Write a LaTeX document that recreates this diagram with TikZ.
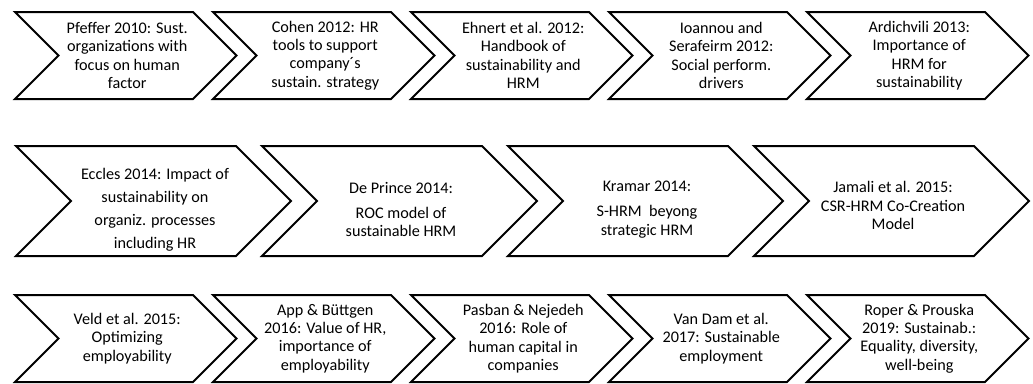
\documentclass[tikz,border=0pt]{standalone}
\usepackage{fontspec}
\setmainfont{Carlito}
\tikzset{
  chevline/.style={draw=black, fill=white, line width=2pt, line join=miter},
  txt/.style={align=center, font=\fontsize{16.2}{18.4}\selectfont, text=black, inner sep=0pt}
}
% #1 x left, #2 y top, #3 body width, #4 height, #5 name, #6 text dy, #7 text
\newcommand\chevshape[7]{%
  \draw[chevline] (#1,#2) -- ++(#3,0) -- ++({#4/2},{#4/2}) -- ++({-#4/2},{#4/2})
    -- ++(-#3,0) -- ++({#4/2},{-#4/2}) -- cycle;
  \node[txt] (#5) at ({#1+#4/2+(#3-#4/2)/2+1.5},{#2+#4/2+#6}) {#7};
}
\begin{document}
\begin{tikzpicture}[x=1pt,y=-1pt]
\useasboundingbox (0,0) rectangle (1033,383);
% Row 1
\chevshape{15}{12}{178}{87}{a1}{0}{Pfeffer 2010: Sust.\\organizations with\\focus on human\\factor}
\chevshape{213}{12}{178}{87}{a2}{0}{Cohen 2012: HR\\tools to support\\company´s\\sustain. strategy}
\chevshape{411}{12}{178}{87}{a3}{0}{Ehnert et al. 2012:\\Handbook of\\sustainability and\\HRM}
\chevshape{609}{12}{178}{87}{a4}{0}{Ioannou and\\Serafeirm 2012:\\Social perform.\\drivers}
\chevshape{807}{12}{178}{87}{a5}{0}{Ardichvili 2013:\\Importance of\\HRM for\\sustainability}
% Row 2
\chevshape{16}{146}{220}{110}{b1}{9}{Eccles 2014: Impact of\\[4.5pt]sustainability on\\[4.5pt]organiz. processes\\[4.5pt]including HR}
\chevshape{262}{146}{220}{110}{b2}{8.5}{De Prince 2014:\\[7pt]ROC model of\\sustainable HRM}
\chevshape{508}{146}{220}{110}{b3}{8.5}{Kramar 2014:\\[7pt]S-HRM\ \ beyong\\strategic HRM}
\chevshape{754}{146}{220}{110}{b4}{4.5}{Jamali et al. 2015:\\CSR-HRM Co-Creation\\Model}
% Row 3
\chevshape{15}{295}{178}{87}{c1}{0}{Veld et al. 2015:\\Optimizing\\employability}
\chevshape{213}{295}{178}{87}{c2}{0}{App \& Büttgen\\2016: Value of HR,\\importance of\\employability}
\chevshape{411}{295}{178}{87}{c3}{0}{Pasban \& Nejedeh\\2016: Role of\\human capital in\\companies}
\chevshape{609}{295}{178}{87}{c4}{0}{Van Dam et al.\\2017: Sustainable\\employment}
\chevshape{807}{295}{178}{87}{c5}{0}{Roper \& Prouska\\2019: Sustainab.:\\Equality, diversity,\\well-being}
\end{tikzpicture}
\end{document}
